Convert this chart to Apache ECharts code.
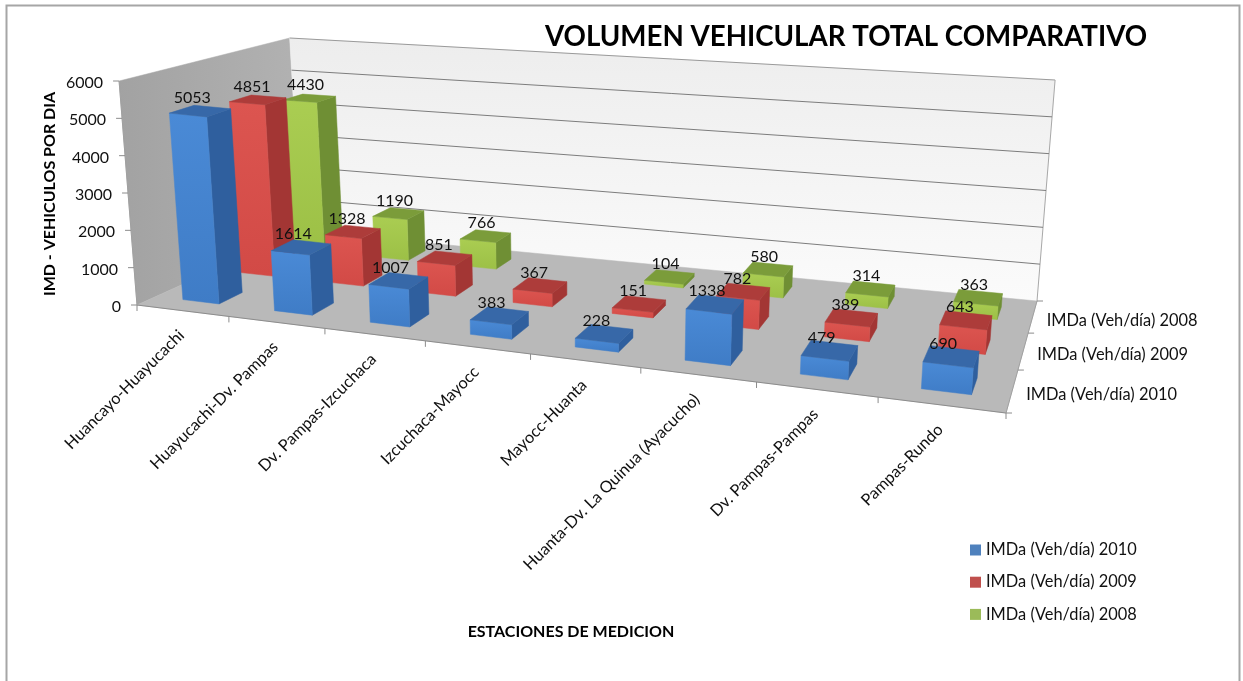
<!DOCTYPE html>
<html>
<head>
<meta charset="utf-8">
<style>
  html, body { margin: 0; padding: 0; background: #fff; }
  #main { width: 1243px; height: 681px; }
</style>
</head>
<body>
<div id="main"></div>
<script src="https://cdn.jsdelivr.net/npm/echarts@6/dist/echarts.min.js"></script>
<script>
var categories = ['Huancayo-Huayucachi', 'Huayucachi-Dv. Pampas', 'Dv. Pampas-Izcuchaca', 'Izcuchaca-Mayocc',
  'Mayocc-Huanta', 'Huanta-Dv. La Quinua (Ayacucho)', 'Dv. Pampas-Pampas', 'Pampas-Rundo'];
var names = ['IMDa (Veh/día) 2010', 'IMDa (Veh/día) 2009', 'IMDa (Veh/día) 2008'];
var imd2010 = [5053, 1614, 1007, 383, 228, 1338, 479, 690];
var imd2009 = [4851, 1328, 851, 367, 151, 782, 389, 643];
var imd2008 = [4430, 1190, 766, null, 104, 580, 314, 363];
var valueTicks = [0, 1000, 2000, 3000, 4000, 5000, 6000];

var rows = [imd2010, imd2009, imd2008];
var legendColors = ['#4f81bd', '#c0504d', '#9bbb59'];
var faces = [
  { front: ['#4a8ad6', '#3f7cc6'], top: '#3768a8', side: '#2f5f9e' },
  { front: ['#dc5550', '#d24a46'], top: '#ad3c3a', side: '#a33634' },
  { front: ['#aacd52', '#9cc046'], top: '#7b9c3a', side: '#6f8f34' }
];
var font = 'Lato';

// floor corners of the 3d box in the picture, full height in px at each corner
var floorQuad = quad([137, 305], [1006, 413], [1037, 301], [301, 231]);
var heightAt = { front0: 224, front1: 236, back0: 193, back1: 221 };
var leanCentre = 585, leanRate = 0.04;

function quad(p0, p1, p2, p3) {
  var dx1 = p1[0] - p2[0], dx2 = p3[0] - p2[0], sx = p0[0] - p1[0] + p2[0] - p3[0];
  var dy1 = p1[1] - p2[1], dy2 = p3[1] - p2[1], sy = p0[1] - p1[1] + p2[1] - p3[1];
  var den = dx1 * dy2 - dx2 * dy1;
  var g = (sx * dy2 - dx2 * sy) / den, h = (dx1 * sy - sx * dy1) / den;
  var a = p1[0] - p0[0] + g * p1[0], b = p3[0] - p0[0] + h * p3[0];
  var d = p1[1] - p0[1] + g * p1[1], e = p3[1] - p0[1] + h * p3[1];
  return function (u, w) {
    var q = g * u + h * w + 1;
    return [(a * u + b * w + p0[0]) / q, (d * u + e * w + p0[1]) / q];
  };
}

// u: along the stations, w: into the picture, v: height, all 0..1
function project(u, w, v) {
  // the station ticks spread a bit less than the floor corners suggest
  var k = 1.062 - 0.03 * w;
  var f = floorQuad(k * u / (1 + (k - 1) * u), w);
  var front = heightAt.front0 + (heightAt.front1 - heightAt.front0) * u;
  var back = heightAt.back0 + (heightAt.back1 - heightAt.back0) * u;
  var full = front + (back - front) * w;
  return [f[0] + (f[0] - leanCentre) * leanRate * v, f[1] - full * v];
}

// axis position of a value -> unit box coordinates
function unit(api, x, val) {
  var pt = api.coord([x, val]);
  return [pt[0] / api.getWidth(), 1 - pt[1] / api.getHeight()];
}

function poly(points, fill) {
  return { type: 'polygon', shape: { points: points }, style: { fill: fill, stroke: fill, lineWidth: 0.5 } };
}

function line(a, b, color, width) {
  return { type: 'line', shape: { x1: a[0], y1: a[1], x2: b[0], y2: b[1] }, style: { stroke: color, lineWidth: width || 1 } };
}

function vGrad(c0, c1) {
  return { type: 'linear', x: 0, y: 0, x2: 0, y2: 1, colorStops: [{ offset: 0, color: c0 }, { offset: 1, color: c1 }] };
}

function hGrad(c0, c1) {
  return { type: 'linear', x: 0, y: 0, x2: 1, y2: 0, colorStops: [{ offset: 0, color: c0 }, { offset: 1, color: c1 }] };
}

function renderFrame(params, api) {
  var kids = [];
  kids.push(poly([project(0, 0, 0), project(0, 1, 0), project(0, 1, 1), project(0, 0, 1)], hGrad('#a2a2a2', '#b2b2b2')));
  kids.push(poly([project(0, 1, 0), project(1, 1, 0), project(1, 1, 1), project(0, 1, 1)], vGrad('#ededed', '#fbfbfb')));
  kids.push(poly([project(0, 0, 0), project(1, 0, 0), project(1, 1, 0), project(0, 1, 0)], '#b9b9b9'));
  kids.push(line(project(0, 1, 1), project(1, 1, 1), '#9a9a9a', 1));
  kids.push(line(project(1, 1, 0), project(1, 1, 1), '#a8a8a8', 1));
  kids.push(line(project(0, 0, 0), project(1, 0, 0), '#8c8c8c', 1.2));
  kids.push(line(project(1, 0, 0), project(1, 1, 0), '#a0a0a0', 1));
  kids.push(line(project(0, 0, 0), project(0, 0, 1), '#a0a0a0', 1));

  valueTicks.forEach(function (tick) {
    var v = unit(api, 0, tick)[1];
    var a = project(0, 1, v), b = project(1, 1, v), c = project(0, 0, v);
    if (tick > 0 && tick < 6000) kids.push(line(a, b, '#7d7d7d', 1));
    kids.push(line(c, [c[0] - 6, c[1]], '#8c8c8c', 1));
    kids.push({
      type: 'text',
      style: { text: String(tick), x: c[0] - 16, y: c[1] + 2, align: 'right', verticalAlign: 'middle', font: '16px ' + font, fill: '#111' }
    });
  });

  var bw = api.size([1, 0])[0] / api.getWidth();
  categories.forEach(function (name, i) {
    var uc = unit(api, i, 0)[0];
    var a = project(uc - bw / 2, 0, 0);
    kids.push(line(a, [a[0], a[1] + 6], '#8c8c8c', 1));
    if (i === categories.length - 1) {
      var z = project(uc + bw / 2, 0, 0);
      kids.push(line(z, [z[0], z[1] + 6], '#8c8c8c', 1));
    }
    var c = project(uc, 0, 0);
    kids.push({
      type: 'text',
      rotation: Math.PI / 4,
      x: c[0] - 1,
      y: c[1] + 22,
      style: { text: name, x: 0, y: 0, align: 'right', verticalAlign: 'middle', font: '16.3px ' + font, fill: '#111' }
    });
  });

  names.forEach(function (name, r) {
    var a = project(1, r / 3, 0), m = project(1, (r + 0.5) / 3, 0);
    kids.push(line(a, [a[0] + 6, a[1]], '#8c8c8c', 1));
    if (r === names.length - 1) {
      var z = project(1, 1, 0);
      kids.push(line(z, [z[0] + 6, z[1]], '#8c8c8c', 1));
    }
    kids.push({
      type: 'text',
      style: { text: name, x: m[0] + 14, y: m[1] + 4, align: 'left', verticalAlign: 'middle', font: '16.4px ' + font, fill: '#111' }
    });
  });
  return { type: 'group', children: kids };
}

function barRenderer(r) {
  return function (params, api) {
    var i = api.value(0), val = api.value(1);
    var bw = api.size([1, 0])[0] / api.getWidth();
    var pos = unit(api, i, val);
    var u0 = pos[0] - bw * 0.2, u1 = pos[0] + bw * 0.2;
    var w0 = (r + 0.3) / 3, w1 = (r + 0.7) / 3, v = pos[1];
    var A = project(u0, w0, 0), B = project(u1, w0, 0), C = project(u1, w0, v), D = project(u0, w0, v);
    var E = project(u1, w1, 0), F = project(u1, w1, v), G = project(u0, w1, v);
    return {
      type: 'group',
      children: [
        poly([B, E, F, C], faces[r].side),
        poly([A, B, C, D], vGrad(faces[r].front[0], faces[r].front[1])),
        poly([D, C, F, G], faces[r].top)
      ]
    };
  };
}

function renderValueLabel(params, api) {
  var r = api.value(2);
  var pos = unit(api, api.value(0), api.value(1));
  var c = project(pos[0], (r + 0.5) / 3, pos[1]);
  return {
    type: 'text',
    style: { text: String(api.value(1)), x: c[0] - 8 + 2 * r, y: c[1] - 13, align: 'center', verticalAlign: 'middle', font: '16px ' + font, fill: '#111' }
  };
}

function rowData(values) {
  var out = [];
  for (var i = values.length - 1; i >= 0; i--) {
    if (values[i] !== null) out.push([i, values[i]]);
  }
  return out;
}

var labelData = [];
rows.forEach(function (values, r) {
  values.forEach(function (val, i) {
    if (val !== null) labelData.push([i, val, r]);
  });
});

var myChart = echarts.init(document.getElementById('main'), null, { renderer: 'canvas' });

var series = [{
  type: 'custom', name: 'frame', z: 1, silent: true,
  renderItem: renderFrame, data: [[0, 0]], clip: false
}];
rows.forEach(function (values, r) {
  series.push({
    type: 'custom', name: names[r], z: 5 - r, silent: true,
    itemStyle: { color: legendColors[r] },
    renderItem: barRenderer(r), data: rowData(values), clip: false
  });
});
series.push({
  type: 'custom', name: 'labels', z: 10, silent: true,
  renderItem: renderValueLabel, data: labelData, clip: false
});

myChart.setOption({
  animation: false,
  backgroundColor: '#fff',
  title: {
    text: 'VOLUMEN VEHICULAR TOTAL COMPARATIVO',
    left: 545, top: 23, padding: 0,
    textStyle: { fontFamily: font, fontSize: 27.7, fontWeight: 'bold', color: '#000' }
  },
  grid: { left: 0, right: 0, top: 0, bottom: 0 },
  xAxis: { type: 'category', data: categories, show: false },
  yAxis: { type: 'value', min: 0, max: 6000, interval: 1000, show: false },
  legend: {
    data: names, orient: 'vertical', left: 965, top: 537, itemGap: 16.2,
    itemWidth: 11, itemHeight: 11, icon: 'rect', selectedMode: false,
    textStyle: { fontFamily: font, fontSize: 16.4, color: '#111' }
  },
  graphic: { elements: [
    { type: 'polyline', shape: { points: [[6.5, 681], [6.5, 5.5], [1239.5, 5.5], [1239.5, 681]] }, style: { stroke: '#a6a6a6', lineWidth: 2, fill: null } },
    { type: 'text', x: 571, y: 632, style: { text: 'ESTACIONES DE MEDICION', align: 'center', verticalAlign: 'middle', font: 'bold 16px ' + font, fill: '#000' } },
    { type: 'text', x: 50, y: 194, rotation: Math.PI / 2, style: { text: 'IMD - VEHICULOS POR DIA', align: 'center', verticalAlign: 'middle', font: 'bold 16px ' + font, fill: '#000' } }
  ] },
  series: series
});
</script>
</body>
</html>
